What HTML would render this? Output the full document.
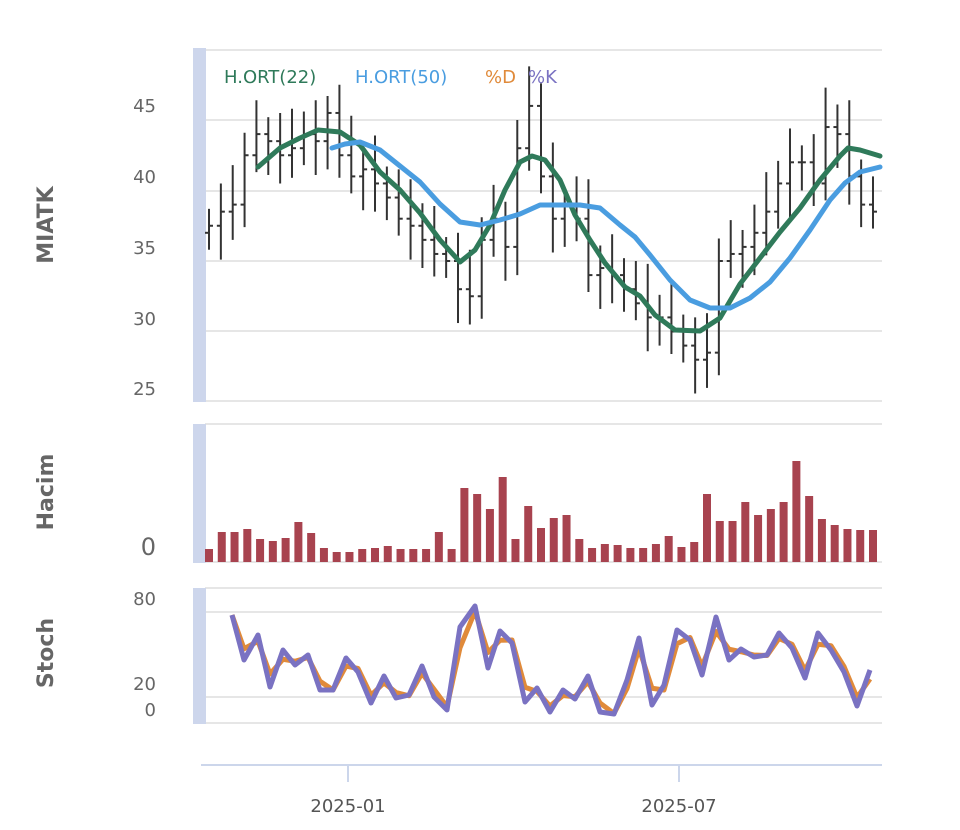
<!DOCTYPE html>
<html><head><meta charset="utf-8"><style>
body{margin:0;background:#fff;}
svg{display:block;font-family:"DejaVu Sans","Liberation Sans",sans-serif;}
</style></head><body>
<svg id="s" width="960" height="830" xmlns="http://www.w3.org/2000/svg">
<rect width="960" height="830" fill="#fff"/>
<g stroke="#e6e6e6" stroke-width="2">
<line x1="205" x2="882" y1="50" y2="50"/>
<line x1="205" x2="882" y1="120" y2="120"/>
<line x1="205" x2="882" y1="191" y2="191"/>
<line x1="205" x2="882" y1="261" y2="261"/>
<line x1="205" x2="882" y1="331" y2="331"/>
<line x1="205" x2="882" y1="401" y2="401"/>
<line x1="205" x2="882" y1="424" y2="424"/>
<line x1="205" x2="882" y1="562" y2="562"/>
<line x1="205" x2="882" y1="588" y2="588"/>
<line x1="205" x2="882" y1="612" y2="612"/>
<line x1="205" x2="882" y1="697" y2="697"/>
<line x1="205" x2="882" y1="723" y2="723"/>
</g>
<g fill="#cdd6ec">
<rect x="193" y="48" width="13" height="354"/>
<rect x="193" y="424" width="13" height="139"/>
<rect x="193" y="588" width="13" height="136"/>
</g>
<line x1="201" x2="882" y1="765" y2="765" stroke="#ccd6eb" stroke-width="2"/>
<line x1="348" x2="348" y1="765" y2="782" stroke="#ccd6eb" stroke-width="2"/>
<line x1="679" x2="679" y1="765" y2="782" stroke="#ccd6eb" stroke-width="2"/>
<g fill="#666" font-size="18" text-anchor="end">
<text x="156" y="112">45</text><text x="156" y="183">40</text><text x="156" y="254">35</text><text x="156" y="325">30</text><text x="156" y="395">25</text>
<text x="156" y="555" font-size="24">0</text>
<text x="156" y="605">80</text><text x="156" y="690">20</text><text x="156" y="716">0</text>
</g>
<g fill="#555" font-size="18" text-anchor="middle">
<text x="348" y="812">2025-01</text><text x="679" y="812">2025-07</text>
</g>
<g fill="#666" font-size="22" font-weight="bold" text-anchor="middle">
<text transform="translate(53,225) rotate(-90)">MIATK</text>
<text transform="translate(53,492) rotate(-90)">Hacim</text>
<text transform="translate(53,653) rotate(-90)">Stoch</text>
</g>
<g id="bars"></g><g id="vol"></g><g id="lines"></g>
<g font-size="18">
<text x="224" y="83" fill="#2f7a5a">H.ORT(22)</text>
<text x="355" y="83" fill="#4a9de0">H.ORT(50)</text>
<text x="485" y="83" fill="#e08a3a">%D</text>
<text x="528" y="83" fill="#7a72c2">%K</text>
</g>
</svg>
<script>
const NS="http://www.w3.org/2000/svg";
function el(p,t,a){const e=document.createElementNS(NS,t);for(const k in a)e.setAttribute(k,a[k]);document.getElementById(p).appendChild(e);}
const py=p=>120+(45-p)*14.1;
const C=[37.5,38.5,39,42.5,44,43.5,42.5,43,44,43.5,45.5,42.5,41,41.5,40.5,39.5,38,37.5,36.5,35.5,35,33,32.5,36.5,38,36,43,46,41,38,39,38,34,34.5,34,33,32,31,31,30,29,28,28.5,35,35.5,36,37,38.5,40.5,42,42,40.5,44.5,44,41,39,38.5];
const n=C.length, x0=209, dx=(873-209)/(n-1);
let prev=37;
for(let i=0;i<n;i++){const x=x0+i*dx,o=prev,c=C[i];const h=Math.max(o,c)+1.2+((i*7)%5)*0.4,l=Math.min(o,c)-1.2-((i*3)%4)*0.4;
el("bars","line",{x1:x,x2:x,y1:py(h),y2:py(l),stroke:"#333","stroke-width":2});
el("bars","line",{x1:x-4,x2:x,y1:py(o),y2:py(o),stroke:"#333","stroke-width":2});
el("bars","line",{x1:x,x2:x+4,y1:py(c),y2:py(c),stroke:"#333","stroke-width":2});prev=c;}
const V=[549,532,532,529,539,541,538,522,533,548,552,552,549,548,546,549,549,549,532,549,488,494,509,477,539,506,528,518,515,539,548,544,545,548,548,544,536,547,542,494,521,521,502,515,509,502,461,496,519,525,529,530,530];
const vn=V.length,vdx=(873-209)/(vn-1);
for(let i=0;i<vn;i++){el("vol","rect",{x:205+i*vdx,y:V[i],width:8,height:562-V[i],fill:"#a8434f"});}
const ma22=[[258,167],[280,148],[300,138],[318,130],[340,132],[360,145],[380,172],[400,190],[420,213],[440,240],[460,262],[475,250],[490,225],[505,190],[520,162],[532,156],[545,160],[560,180],[575,215],[590,240],[605,263],[625,287],[640,296],[655,315],[675,330],[700,331],[720,318],[740,284],[760,258],[780,232],[800,208],[820,180],[840,156],[848,148],[860,150],[880,156]];
const ma50=[[332,148],[345,144],[360,142],[380,150],[400,166],[420,182],[440,204],[460,222],[480,225],[500,220],[520,214],[540,205],[560,205],[580,205],[600,208],[620,225],[635,237],[650,255],[670,280],[690,300],[710,308],[730,308],[750,298],[770,282],[790,258],[810,230],[830,200],[845,183],[860,172],[880,167]];
const sk=v=>v.map(p=>p.join(",")).join(" ");
el("lines","polyline",{points:sk(ma22),fill:"none",stroke:"#2f7a5a","stroke-width":5,"stroke-linejoin":"round","stroke-linecap":"round"});
el("lines","polyline",{points:sk(ma50),fill:"none",stroke:"#4a9de0","stroke-width":5,"stroke-linejoin":"round","stroke-linecap":"round"});
const K=[[232,615],[244,660],[258,635],[270,687],[283,650],[295,665],[308,655],[320,690],[333,690],[346,658],[358,672],[371,703],[384,676],[396,698],[409,695],[422,666],[434,697],[447,710],[460,627],[475,606],[488,668],[500,631],[512,643],[525,702],[537,688],[550,712],[563,690],[575,699],[588,676],[600,712],[614,714],[627,680],[639,638],[652,705],[664,685],[677,630],[690,640],[702,675],[716,617],[729,660],[741,649],[754,657],[767,655],[779,633],[792,648],[805,678],[818,633],[831,650],[844,672],[857,706],[870,670]];
const D=K.map((p,i)=>[p[0], i>0? (p[1]*0.75+K[i-1][1]*0.25):p[1]]);
el("lines","polyline",{points:sk(D),fill:"none",stroke:"#e08a3a","stroke-width":5,"stroke-linejoin":"round"});
el("lines","polyline",{points:sk(K),fill:"none",stroke:"#7a72c2","stroke-width":5,"stroke-linejoin":"round"});
</script>
</body></html>
